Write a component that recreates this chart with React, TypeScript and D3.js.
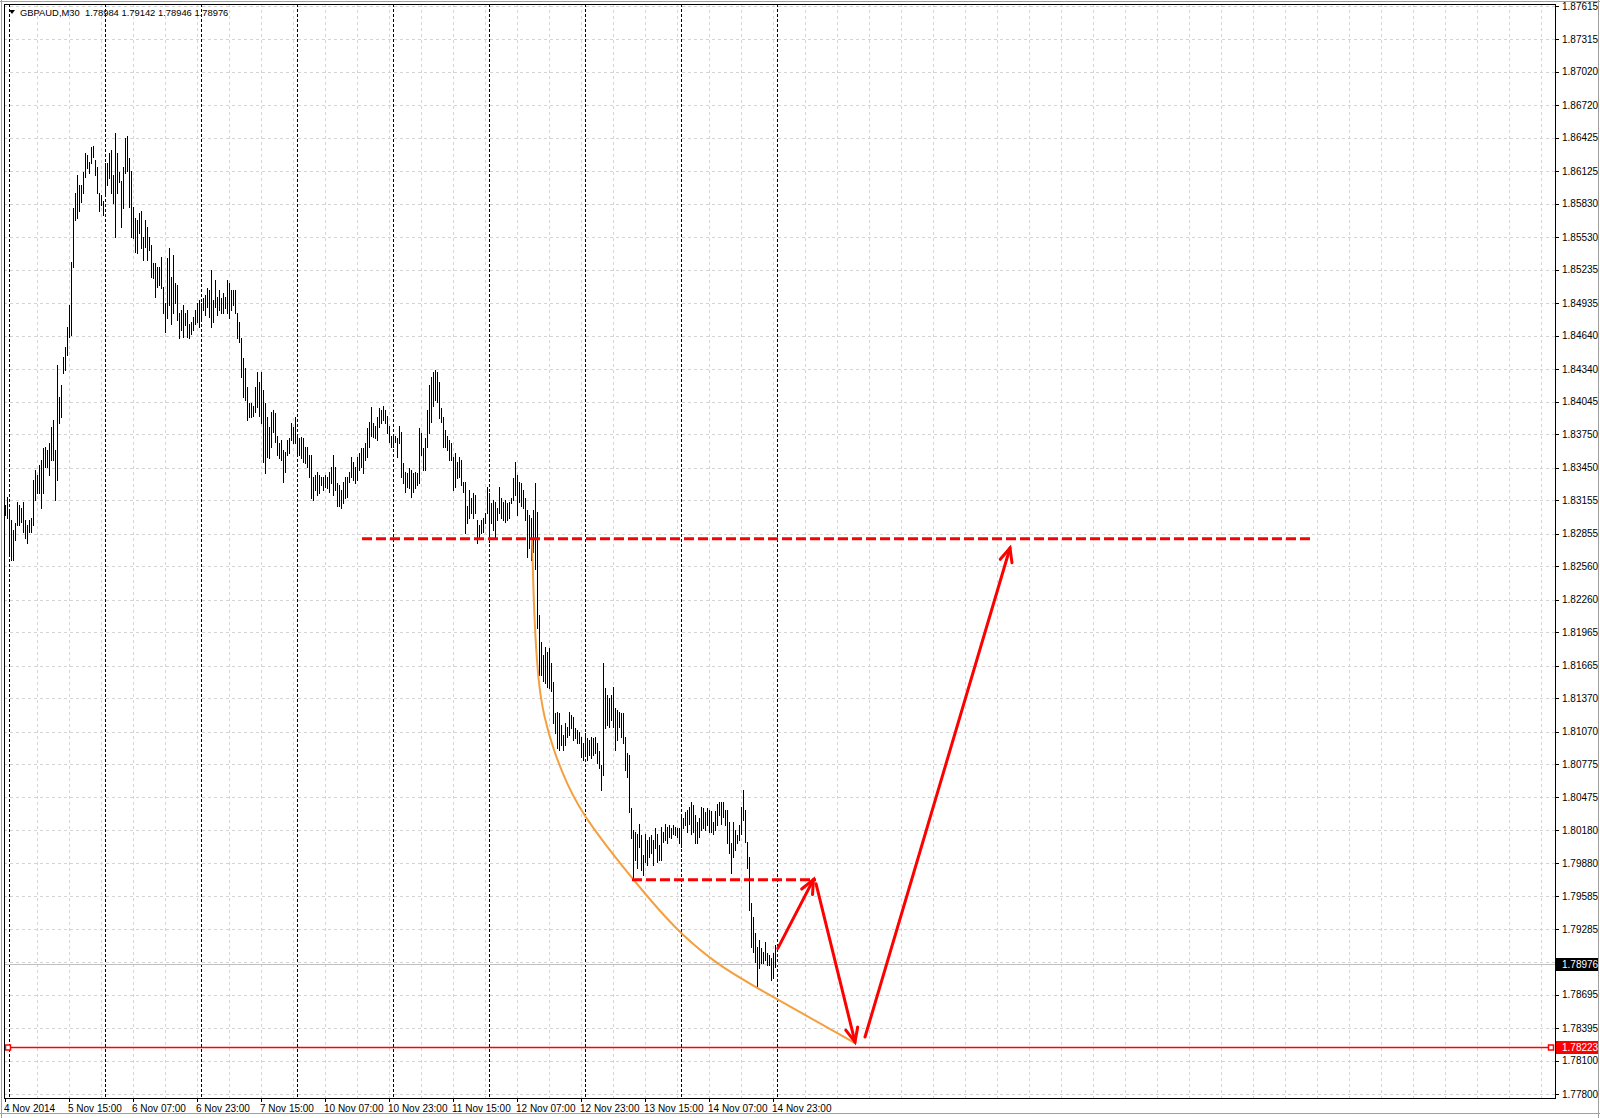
import React from 'react';
import * as d3 from 'd3';

// ---- data (GBPAUD M30, 4 Nov 2014 23:00 -> 14 Nov 2014 23:30) ----
const highs = [
  1.8311, 1.8319, 1.8307, 1.8298, 1.8289, 1.8295, 1.8314, 1.8311, 1.8309, 1.8314,
  1.8298, 1.8293, 1.8298, 1.8300, 1.8334, 1.8343, 1.8338, 1.8347, 1.8352, 1.8363,
  1.8364, 1.8361, 1.8367, 1.8382, 1.8388, 1.8361, 1.8438, 1.8409, 1.8420, 1.8445,
  1.8454, 1.8472, 1.8492, 1.8531, 1.8579, 1.8593, 1.8609, 1.8600, 1.8600, 1.8612,
  1.8629, 1.8627, 1.8621, 1.8634, 1.8635, 1.8623, 1.8616, 1.8593, 1.8591, 1.8586,
  1.8620, 1.8620, 1.8629, 1.8632, 1.8609, 1.8647, 1.8629, 1.8612, 1.8604, 1.8616,
  1.8642, 1.8644, 1.8624, 1.8613, 1.8580, 1.8570, 1.8568, 1.8575, 1.8577, 1.8553,
  1.8568, 1.8562, 1.8553, 1.8546, 1.8530, 1.8530, 1.8526, 1.8526, 1.8535, 1.8508,
  1.8494, 1.8534, 1.8543, 1.8517, 1.8537, 1.8512, 1.8510, 1.8485, 1.8487, 1.8492,
  1.8485, 1.8487, 1.8475, 1.8476, 1.8481, 1.8487, 1.8494, 1.8496, 1.8494, 1.8498,
  1.8501, 1.8507, 1.8505, 1.8523, 1.8496, 1.8514, 1.8499, 1.8505, 1.8498, 1.8503,
  1.8499, 1.8514, 1.8512, 1.8505, 1.8505, 1.8505, 1.8485, 1.8476, 1.8462, 1.8444,
  1.8435, 1.8418, 1.8403, 1.8403, 1.8401, 1.8418, 1.8431, 1.8422, 1.8431, 1.8415,
  1.8403, 1.8391, 1.8382, 1.8395, 1.8397, 1.8394, 1.8374, 1.8367, 1.8370, 1.8361,
  1.8359, 1.8370, 1.8372, 1.8385, 1.8382, 1.8391, 1.8373, 1.8372, 1.8373, 1.8372,
  1.8364, 1.8364, 1.8356, 1.8356, 1.8337, 1.8338, 1.8341, 1.8338, 1.8337, 1.8337,
  1.8338, 1.8337, 1.8341, 1.8346, 1.8356, 1.8346, 1.8331, 1.8329, 1.8325, 1.8332,
  1.8337, 1.8337, 1.8341, 1.8355, 1.8350, 1.8346, 1.8355, 1.8358, 1.8363, 1.8363,
  1.8367, 1.8381, 1.8386, 1.8400, 1.8385, 1.8383, 1.8391, 1.8399, 1.8397, 1.8401,
  1.8397, 1.8392, 1.8383, 1.8374, 1.8374, 1.8374, 1.8372, 1.8383, 1.8377, 1.8349,
  1.8341, 1.8340, 1.8345, 1.8343, 1.8340, 1.8341, 1.8340, 1.8381, 1.8376, 1.8363,
  1.8372, 1.8397, 1.8420, 1.8427, 1.8431, 1.8433, 1.8431, 1.8422, 1.8399, 1.8391,
  1.8379, 1.8374, 1.8370, 1.8367, 1.8355, 1.8358, 1.8350, 1.8355, 1.8352, 1.8332,
  1.8332, 1.8310, 1.8325, 1.8318, 1.8322, 1.8320, 1.8298, 1.8293, 1.8298, 1.8300,
  1.8304, 1.8328, 1.8322, 1.8313, 1.8316, 1.8314, 1.8309, 1.8328, 1.8318, 1.8314,
  1.8316, 1.8313, 1.8314, 1.8318, 1.8336, 1.8350, 1.8338, 1.8332, 1.8331, 1.8325,
  1.8318, 1.8307, 1.8302, 1.8300, 1.8307, 1.8331, 1.8305, 1.8212, 1.8188, 1.8176,
  1.8183, 1.8179, 1.8182, 1.8169, 1.8152, 1.8124, 1.8125, 1.8124, 1.8113, 1.8104,
  1.8115, 1.8111, 1.8125, 1.8122, 1.8120, 1.8110, 1.8108, 1.8107, 1.8102, 1.8097,
  1.8106, 1.8101, 1.8099, 1.8102, 1.8101, 1.8102, 1.8097, 1.8089, 1.8077, 1.8169,
  1.8146, 1.8140, 1.8137, 1.8140, 1.8147, 1.8128, 1.8126, 1.8125, 1.8124, 1.8124,
  1.8102, 1.8088, 1.8086, 1.8038, 1.8018, 1.8016, 1.8015, 1.8024, 1.8014, 1.7996,
  1.8015, 1.8009, 1.8012, 1.8014, 1.8009, 1.8020, 1.8015, 1.8005, 1.8021, 1.8016,
  1.8024, 1.8021, 1.8023, 1.8020, 1.8023, 1.8021, 1.8020, 1.8020, 1.8032, 1.8029,
  1.8034, 1.8036, 1.8039, 1.8043, 1.8041, 1.8032, 1.8025, 1.8029, 1.8039, 1.8038,
  1.8034, 1.8038, 1.8036, 1.8035, 1.8025, 1.8035, 1.8042, 1.8043, 1.8043, 1.8043,
  1.8036, 1.8036, 1.8025, 1.8006, 1.8025, 1.8018, 1.8014, 1.8023, 1.8039, 1.8054,
  1.8036, 1.8007, 1.7994, 1.7952, 1.7940, 1.7925, 1.7913, 1.7919, 1.7912, 1.7908,
  1.7917, 1.7907, 1.7905, 1.7903, 1.7907, 1.79142,
];

const lows = [
  1.8302, 1.8300, 1.8268, 1.8262, 1.8262, 1.8280, 1.8293, 1.8293, 1.8296, 1.8287,
  1.8282, 1.8277, 1.8287, 1.8287, 1.8293, 1.8316, 1.8322, 1.8322, 1.8309, 1.8322,
  1.8346, 1.8346, 1.8338, 1.8352, 1.8352, 1.8316, 1.8334, 1.8385, 1.8391, 1.8430,
  1.8433, 1.8447, 1.8463, 1.8465, 1.8526, 1.8568, 1.8570, 1.8577, 1.8585, 1.8593,
  1.8607, 1.8615, 1.8611, 1.8620, 1.8625, 1.8609, 1.8593, 1.8577, 1.8582, 1.8573,
  1.8591, 1.8600, 1.8606, 1.8593, 1.8584, 1.8553, 1.8593, 1.8603, 1.8562, 1.8579,
  1.8611, 1.8613, 1.8580, 1.8553, 1.8552, 1.8540, 1.8539, 1.8557, 1.8543, 1.8532,
  1.8544, 1.8532, 1.8541, 1.8517, 1.8516, 1.8499, 1.8508, 1.8510, 1.8507, 1.8485,
  1.8467, 1.8480, 1.8492, 1.8475, 1.8485, 1.8494, 1.8478, 1.8462, 1.8469, 1.8463,
  1.8474, 1.8463, 1.8462, 1.8466, 1.8469, 1.8475, 1.8476, 1.8472, 1.8478, 1.8487,
  1.8483, 1.8490, 1.8481, 1.8472, 1.8476, 1.8490, 1.8483, 1.8487, 1.8485, 1.8485,
  1.8489, 1.8485, 1.8480, 1.8487, 1.8492, 1.8485, 1.8462, 1.8458, 1.8427, 1.8409,
  1.8406, 1.8388, 1.8391, 1.8391, 1.8392, 1.8395, 1.8400, 1.8392, 1.8385, 1.8350,
  1.8340, 1.8355, 1.8354, 1.8364, 1.8377, 1.8368, 1.8356, 1.8354, 1.8352, 1.8332,
  1.8341, 1.8356, 1.8358, 1.8370, 1.8367, 1.8367, 1.8358, 1.8356, 1.8354, 1.8350,
  1.8349, 1.8346, 1.8337, 1.8318, 1.8316, 1.8325, 1.8320, 1.8322, 1.8329, 1.8325,
  1.8328, 1.8327, 1.8323, 1.8331, 1.8320, 1.8325, 1.8310, 1.8310, 1.8309, 1.8313,
  1.8318, 1.8319, 1.8332, 1.8337, 1.8334, 1.8331, 1.8334, 1.8343, 1.8346, 1.8340,
  1.8352, 1.8355, 1.8364, 1.8374, 1.8373, 1.8372, 1.8370, 1.8382, 1.8385, 1.8388,
  1.8385, 1.8376, 1.8368, 1.8364, 1.8364, 1.8368, 1.8355, 1.8367, 1.8337, 1.8331,
  1.8323, 1.8328, 1.8327, 1.8319, 1.8323, 1.8327, 1.8329, 1.8331, 1.8356, 1.8343,
  1.8343, 1.8364, 1.8376, 1.8386, 1.8401, 1.8406, 1.8404, 1.8390, 1.8386, 1.8364,
  1.8364, 1.8361, 1.8352, 1.8352, 1.8325, 1.8328, 1.8336, 1.8337, 1.8329, 1.8323,
  1.8286, 1.8295, 1.8300, 1.8304, 1.8300, 1.8304, 1.8277, 1.8282, 1.8286, 1.8287,
  1.8295, 1.8304, 1.8278, 1.8295, 1.8289, 1.8282, 1.8298, 1.8304, 1.8300, 1.8298,
  1.8296, 1.8298, 1.8300, 1.8313, 1.8316, 1.8320, 1.8302, 1.8314, 1.8310, 1.8309,
  1.8298, 1.8264, 1.8273, 1.8262, 1.8269, 1.8254, 1.8200, 1.8158, 1.8158, 1.8153,
  1.8151, 1.8147, 1.8146, 1.8144, 1.8115, 1.8106, 1.8092, 1.8090, 1.8095, 1.8090,
  1.8095, 1.8102, 1.8104, 1.8110, 1.8099, 1.8101, 1.8097, 1.8097, 1.8084, 1.8081,
  1.8086, 1.8081, 1.8086, 1.8083, 1.8086, 1.8088, 1.8079, 1.8074, 1.8054, 1.8068,
  1.8110, 1.8113, 1.8111, 1.8117, 1.8111, 1.8090, 1.8099, 1.8111, 1.8102, 1.8097,
  1.8072, 1.8066, 1.8034, 1.8011, 1.7975, 1.7991, 1.7984, 1.8003, 1.7982, 1.7978,
  1.7989, 1.7987, 1.7994, 1.7997, 1.7987, 1.8002, 1.7989, 1.7991, 1.7991, 1.8007,
  1.8009, 1.8006, 1.8012, 1.8011, 1.8015, 1.8014, 1.8012, 1.8006, 1.8003, 1.8020,
  1.8023, 1.8016, 1.8024, 1.8015, 1.8016, 1.8006, 1.8006, 1.8012, 1.8018, 1.8020,
  1.8018, 1.8023, 1.8016, 1.8016, 1.8015, 1.8018, 1.8023, 1.8032, 1.8024, 1.8030,
  1.8023, 1.8006, 1.7997, 1.7979, 1.7994, 1.8000, 1.8006, 1.8009, 1.8015, 1.8027,
  1.8007, 1.7984, 1.7946, 1.7913, 1.7908, 1.7899, 1.7876, 1.7894, 1.7898, 1.7898,
  1.7901, 1.7896, 1.7896, 1.7883, 1.7885, 1.78946,
];

const priceTicks = [
  1.87615, 1.87315, 1.8702, 1.8672, 1.86425, 1.86125, 1.8583, 1.8553, 1.85235,
  1.84935, 1.8464, 1.8434, 1.84045, 1.8375, 1.8345, 1.83155, 1.82855, 1.8256,
  1.8226, 1.81965, 1.81665, 1.8137, 1.8107, 1.80775, 1.80475, 1.8018, 1.7988,
  1.79585, 1.79285, 1.7899, 1.78695, 1.78395, 1.781, 1.778,
];
const hiddenTickLabels = [1.7899];

const timeLabels = [
  '4 Nov 2014', '5 Nov 15:00', '6 Nov 07:00', '6 Nov 23:00', '7 Nov 15:00',
  '10 Nov 07:00', '10 Nov 23:00', '11 Nov 15:00', '12 Nov 07:00', '12 Nov 23:00',
  '13 Nov 15:00', '14 Nov 07:00', '14 Nov 23:00',
];
const timeLabelBars = [0, 32, 64, 96, 128, 160, 192, 224, 256, 288, 320, 352, 384];
const daySeparatorBars = [2, 50, 98, 146, 194, 242, 290, 338, 386];

const symbol = 'GBPAUD,M30';
const lastOHLC = [1.78984, 1.79142, 1.78946, 1.78976];
const bidPrice = 1.78976;
const supportLevel = 1.78223;

// annotations, in (bar index, price)
const upperDashed = { from: 178.5, to: 653, price: 1.8281 };
const lowerDashed = { from: 313.5, to: 405.5, price: 1.79732 };
const curveBars = [263.5, 264.0, 264.6, 266.6, 269.5, 274.2, 280.8, 290, 323.5, 338.5, 356.5, 376, 425];
const curvePrices = [1.8281, 1.8250, 1.82106, 1.81505, 1.81204, 1.80903, 1.80603, 1.80272, 1.79523, 1.79234, 1.78964, 1.78756, 1.7826];
const arrowStartBars = [386.4, 405.5, 430];
const arrowStartPrices = [1.79114, 1.79697, 1.78314];
const arrowEndBars = [404.2, 425, 502.5];
const arrowEndPrices = [1.79734, 1.7827, 1.82726];

const W = 1600;
const H = 1118;
const L = 4, T = 4, R = 1555, B = 1098;

const x = d3.scaleLinear().domain([0, 385]).range([5, 775]);
const y = d3.scaleLinear().domain([1.778, 1.87615]).range([1094, 6]);

const FONT = "'Liberation Sans', Arial, sans-serif";

function arrowHead(x1: number, y1: number, x2: number, y2: number, len = 15, ang = 0.42) {
  const a = Math.atan2(y2 - y1, x2 - x1);
  const p1 = [x2 - len * Math.cos(a - ang), y2 - len * Math.sin(a - ang)];
  const p2 = [x2 - len * Math.cos(a + ang), y2 - len * Math.sin(a + ang)];
  return `M${p1[0]},${p1[1]}L${x2},${y2}L${p2[0]},${p2[1]}`;
}

export default function App() {
  const crisp = (v: number) => Math.round(v) + 0.5;
  const gridXs: number[] = [];
  for (let i = 16; x(i) < R; i += 16) gridXs.push(crisp(x(i)));

  const curveLine = d3
    .line<number>()
    .x((_, k) => x(curveBars[k]))
    .y((p) => y(p))
    .curve(d3.curveBasis);

  return (
    <svg
      width={W}
      height={H}
      style={{ position: 'absolute', left: 0, top: 0, background: '#fff' }}
      fontFamily={FONT}
    >
      <rect x={0} y={0} width={W} height={H} fill="#ffffff" />
      {/* grid */}
      {priceTicks.map((p) => (
        <line key={'gh' + p} x1={L} x2={R} y1={crisp(y(p))} y2={crisp(y(p))} stroke="#d4d4d4" strokeDasharray="3,3" />
      ))}
      {gridXs.map((gx) => (
        <line key={'gv' + gx} x1={gx} x2={gx} y1={T} y2={B} stroke="#d4d4d4" strokeDasharray="3,3" />
      ))}
      {/* day separators */}
      {daySeparatorBars.map((b) => (
        <line key={'ds' + b} x1={crisp(x(b))} x2={crisp(x(b))} y1={T} y2={B} stroke="#000" strokeDasharray="3,2" />
      ))}
      {/* bid line */}
      <line x1={L} x2={R} y1={crisp(y(bidPrice))} y2={crisp(y(bidPrice))} stroke="#c0c0c0" />
      {/* bars */}
      {highs.map((h, i) => (
        <line key={'b' + i} x1={crisp(x(i))} x2={crisp(x(i))} y1={Math.round(y(h))} y2={Math.round(y(lows[i])) + 1} stroke="#000" />
      ))}
      {/* orange curve */}
      <path d={curveLine(curvePrices) || ''} fill="none" stroke="#f4a040" strokeWidth={2} />
      {/* red levels */}
      <line x1={x(upperDashed.from)} x2={x(upperDashed.to)} y1={y(upperDashed.price)} y2={y(upperDashed.price)} stroke="#ff0000" strokeWidth={3} strokeDasharray="10,4" />
      <line x1={x(lowerDashed.from)} x2={x(lowerDashed.to)} y1={y(lowerDashed.price)} y2={y(lowerDashed.price)} stroke="#ff0000" strokeWidth={3} strokeDasharray="10,4" />
      <line x1={L + 2} x2={R - 4} y1={crisp(y(supportLevel))} y2={crisp(y(supportLevel))} stroke="#ff0000" strokeWidth={1.5} />
      <rect x={L + 1.5} y={crisp(y(supportLevel)) - 2.5} width={5} height={5} fill="#fff" stroke="#ff0000" strokeWidth={1.5} />
      <rect x={R - 6.5} y={crisp(y(supportLevel)) - 2.5} width={5} height={5} fill="#fff" stroke="#ff0000" strokeWidth={1.5} />
      {/* arrows */}
      {arrowStartBars.map((sb, k) => {
        const x1 = x(sb), y1 = y(arrowStartPrices[k]);
        const x2 = x(arrowEndBars[k]), y2 = y(arrowEndPrices[k]);
        return (
          <g key={'ar' + k} stroke="#ff0000" strokeWidth={3} fill="none" strokeLinecap="round">
            <line x1={x1} y1={y1} x2={x2} y2={y2} />
            <path d={arrowHead(x1, y1, x2, y2)} />
          </g>
        );
      })}
      {/* frame */}
      <line x1={L + 0.5} x2={L + 0.5} y1={T} y2={B} stroke="#000" />
      <line x1={L} x2={R} y1={T + 0.5} y2={T + 0.5} stroke="#000" />
      <line x1={R + 0.5} x2={R + 0.5} y1={T} y2={B + 1} stroke="#000" />
      <line x1={L} x2={R + 1} y1={B + 0.5} y2={B + 0.5} stroke="#000" />
      <line x1={0} x2={W} y1={1.5} y2={1.5} stroke="#a0a0a0" />
      <line x1={1.5} x2={1.5} y1={0} y2={H} stroke="#a0a0a0" />
      <line x1={W - 1.5} x2={W - 1.5} y1={0} y2={H} stroke="#a0a0a0" />
      <line x1={0} x2={W} y1={H - 4.5} y2={H - 4.5} stroke="#a0a0a0" />
      {/* price axis */}
      {priceTicks.map((p) => (
        <g key={'pt' + p}>
          <line x1={R} x2={R + 4} y1={crisp(y(p))} y2={crisp(y(p))} stroke="#000" />
          {!hiddenTickLabels.includes(p) && (
            <text x={R + 7} y={y(p) + 3.5} fontSize={10} fill="#000">
              {p.toFixed(5)}
            </text>
          )}
        </g>
      ))}
      <rect x={R + 1} y={Math.round(y(bidPrice)) - 6} width={W - R - 3} height={13} fill="#000" />
      <text x={R + 7} y={y(bidPrice) + 4} fontSize={10} fill="#fff">{bidPrice.toFixed(5)}</text>
      <rect x={R + 1} y={Math.round(y(supportLevel)) - 6} width={W - R - 3} height={13} fill="#ff0000" />
      <text x={R + 7} y={y(supportLevel) + 4} fontSize={10} fill="#fff">{supportLevel.toFixed(5)}</text>
      {/* time axis */}
      {timeLabels.map((t, k) => (
        <g key={'tl' + k}>
          <line x1={crisp(x(timeLabelBars[k]))} x2={crisp(x(timeLabelBars[k]))} y1={B} y2={B + 4} stroke="#000" />
          <text x={x(timeLabelBars[k]) - 1} y={B + 14} fontSize={10} fill="#000">{t}</text>
        </g>
      ))}
      {/* title */}
      <path d="M9,10 L15,10 L12,14 Z" fill="#000" />
      <text x={20} y={16} fontSize={9.4} fill="#000" style={{ whiteSpace: 'pre' }}>
        {symbol + '  ' + lastOHLC.map((v) => v.toFixed(5)).join(' ')}
      </text>
    </svg>
  );
}
